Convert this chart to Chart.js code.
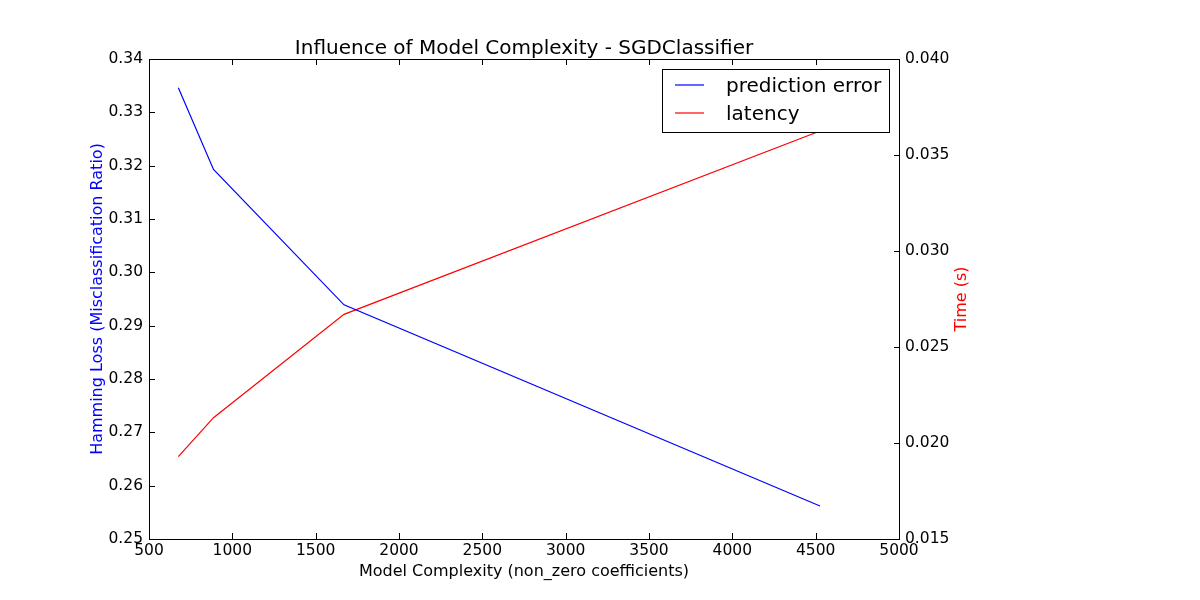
<!DOCTYPE html>
<html>
<head>
<meta charset="utf-8">
<title>Influence of Model Complexity - SGDClassifier</title>
<script src="https://cdn.jsdelivr.net/npm/chart.js@4.4.1/dist/chart.umd.min.js"></script>
<style>
    html, body { margin: 0; padding: 0; background: #ffffff; }
    #wrap { width: 1200px; height: 600px; }
</style>
</head>
<body>
<div id="wrap"><canvas id="chart" width="1200" height="600"></canvas></div>
<script>
// Model complexity (non-zero coefficients) per point
const complexity = [676, 887, 1670, 4526];
// Hamming loss (left axis)
const predictionError = [0.3346, 0.3193, 0.2939, 0.2562];
// Prediction latency in seconds (right axis)
const latency = [0.01929, 0.02132, 0.02670, 0.03625];

const seriesNames = ['prediction error', 'latency'];
const seriesColors = ['#0000ff', '#ff0000'];

const FONT = 'DejaVu Sans';

// Matplotlib-style frame, inward ticks, right-axis label and boxed legend
const mplStyle = {
    id: 'mplStyle',
    afterDatasetsDraw(chart) {
        const ctx = chart.ctx;
        const area = chart.chartArea;
        const x = chart.scales.x;
        const y = chart.scales.y;
        const y1 = chart.scales.y1;
        const tick = 6;

        ctx.save();
        ctx.strokeStyle = '#000000';
        ctx.lineWidth = 1;

        // frame
        ctx.strokeRect(area.left + 0.5, area.top + 0.5, area.right - area.left, area.bottom - area.top);

        ctx.beginPath();
        x.ticks.forEach(t => {
            const px = Math.round(x.getPixelForValue(t.value)) + 0.5;
            ctx.moveTo(px, area.bottom);
            ctx.lineTo(px, area.bottom - tick);
            ctx.moveTo(px, area.top);
            ctx.lineTo(px, area.top + tick);
        });
        y.ticks.forEach(t => {
            const py = Math.round(y.getPixelForValue(t.value)) + 0.5;
            ctx.moveTo(area.left, py);
            ctx.lineTo(area.left + tick, py);
        });
        y1.ticks.forEach(t => {
            const py = Math.round(y1.getPixelForValue(t.value)) + 0.5;
            ctx.moveTo(area.right + 1, py);
            ctx.lineTo(area.right + 1 - tick, py);
        });
        ctx.stroke();

        // right axis title, reads bottom to top like the left one
        ctx.save();
        ctx.translate(area.right + 63, (area.top + area.bottom) / 2);
        ctx.rotate(-Math.PI / 2);
        ctx.fillStyle = seriesColors[1];
        ctx.font = '16px "' + FONT + '"';
        ctx.textAlign = 'center';
        ctx.textBaseline = 'middle';
        ctx.fillText('Time (s)', 0, 0);
        ctx.restore();

        // legend box
        const boxW = 227, boxH = 63;
        const bx = area.right - 10 - boxW;
        const by = area.top + 10;
        ctx.fillStyle = '#ffffff';
        ctx.fillRect(bx, by, boxW, boxH);
        ctx.strokeRect(bx + 0.5, by + 0.5, boxW, boxH);

        ctx.font = '20px "' + FONT + '"';
        ctx.textAlign = 'left';
        ctx.textBaseline = 'middle';
        seriesNames.forEach((name, i) => {
            const ly = by + 16 + i * 28;
            ctx.strokeStyle = seriesColors[i];
            ctx.lineWidth = 1.2;
            ctx.beginPath();
            ctx.moveTo(bx + 13, ly);
            ctx.lineTo(bx + 42, ly);
            ctx.stroke();
            ctx.fillStyle = '#000000';
            ctx.fillText(name, bx + 64, ly + 2);
        });

        ctx.restore();
    }
};

new Chart(document.getElementById('chart'), {
    type: 'line',
    data: {
        datasets: [
            {
                label: seriesNames[0],
                data: complexity.map((c, i) => ({ x: c, y: predictionError[i] })),
                borderColor: seriesColors[0],
                borderWidth: 1.2,
                pointRadius: 0,
                tension: 0,
                fill: false,
                yAxisID: 'y'
            },
            {
                label: seriesNames[1],
                data: complexity.map((c, i) => ({ x: c, y: latency[i] })),
                borderColor: seriesColors[1],
                borderWidth: 1.2,
                pointRadius: 0,
                tension: 0,
                fill: false,
                yAxisID: 'y1'
            }
        ]
    },
    options: {
        responsive: false,
        animation: false,
        devicePixelRatio: 1,
        layout: {
            padding: { top: 0, left: 0, right: 0, bottom: 0 },
            autoPadding: false
        },
        plugins: {
            legend: { display: false },
            tooltip: { enabled: false },
            title: {
                display: true,
                fullSize: false,
                text: 'Influence of Model Complexity - SGDClassifier',
                color: '#000000',
                font: { family: FONT, size: 20, weight: 'normal', lineHeight: 1 },
                padding: { top: 39, bottom: 0 }
            }
        },
        scales: {
            x: {
                type: 'linear',
                min: 500,
                max: 5000,
                grid: { display: false, drawTicks: false },
                border: { display: false },
                ticks: {
                    stepSize: 500,
                    autoSkip: false,
                    maxRotation: 0,
                    padding: 3,
                    color: '#000000',
                    font: { family: FONT, size: 15.5 },
                    callback: v => String(v)
                },
                title: {
                    display: true,
                    text: 'Model Complexity (non_zero coefficients)',
                    color: '#000000',
                    font: { family: FONT, size: 16 },
                    padding: { top: 0, bottom: 19 }
                },
                afterFit(scale) { scale.height = 61; }
            },
            y: {
                type: 'linear',
                position: 'left',
                min: 0.25,
                max: 0.34,
                grid: { display: false, drawTicks: false },
                border: { display: false },
                ticks: {
                    stepSize: 0.01,
                    padding: 6,
                    color: '#000000',
                    font: { family: FONT, size: 15.5 },
                    callback: v => v.toFixed(2)
                },
                title: {
                    display: true,
                    text: 'Hamming Loss (Misclassification Ratio)',
                    color: seriesColors[0],
                    font: { family: FONT, size: 16 },
                    padding: { top: 88, bottom: 0 }
                },
                afterFit(scale) { scale.width = 149; }
            },
            y1: {
                type: 'linear',
                position: 'right',
                min: 0.015,
                max: 0.040,
                grid: { display: false, drawTicks: false },
                border: { display: false },
                ticks: {
                    stepSize: 0.005,
                    padding: 6,
                    color: '#000000',
                    font: { family: FONT, size: 15.5 },
                    callback: v => v.toFixed(3)
                },
                afterFit(scale) { scale.width = 301; }
            }
        }
    },
    plugins: [mplStyle]
});
</script>
</body>
</html>
